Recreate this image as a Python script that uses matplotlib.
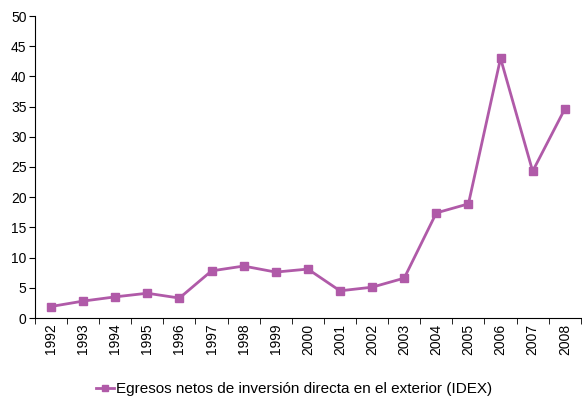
import numpy as np
import matplotlib.pyplot as plt

plt.rcParams['font.family'] = ['Liberation Sans', 'DejaVu Sans']

years = [str(y) for y in range(1992, 2009)]
idex = [1.9, 2.8, 3.5, 4.1, 3.3, 7.8, 8.6, 7.6, 8.1, 4.5, 5.1, 6.6, 17.4, 18.9, 43.0, 24.3, 34.6]
color = '#B05AA8'

fig = plt.figure(figsize=(5.82, 4.0), dpi=100)
ax = fig.add_axes([0.060, 0.205, 0.938, 0.755])

x = np.arange(len(years))
ax.plot(x, idex, color=color, lw=2, marker='s', ms=5.5,
        label='Egresos netos de inversión directa en el exterior (IDEX)')

ax.set_xlim(-0.5, len(years) - 0.5)
ax.set_ylim(0, 50)
ax.set_yticks(range(0, 51, 5))
ax.set_xticks(x)
ax.set_xticklabels(years, rotation=90)
ax.set_xticks(np.arange(-0.5, len(years), 1), minor=True)
ax.tick_params(axis='x', which='major', length=0, pad=4, labelsize=10)
ax.tick_params(axis='x', which='minor', length=4, direction='out')
ax.tick_params(axis='y', length=4, labelsize=10, pad=2)

for s in ['top', 'right']:
    ax.spines[s].set_visible(False)

fig.legend(loc='center', bbox_to_anchor=(0.505, 0.027), frameon=False,
           fontsize=11, handlelength=1.2, handletextpad=0.1, markerscale=0.8)

fig.savefig('out.png', dpi=100)
